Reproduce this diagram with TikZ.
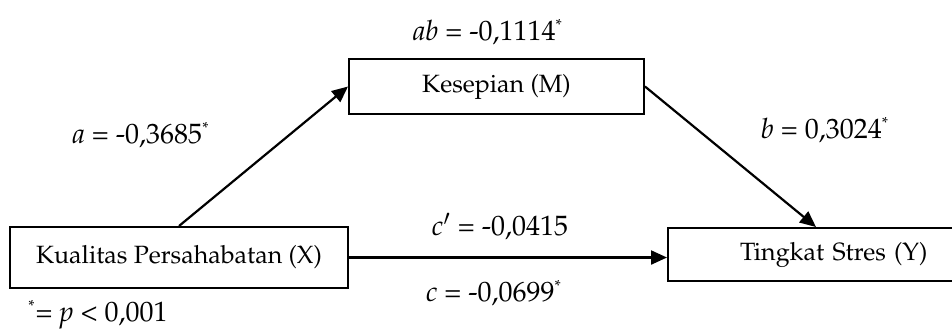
\documentclass[tikz,border=0pt]{standalone}
\usepackage[T1]{fontenc}
\usepackage{mathpazo}
\usetikzlibrary{arrows.meta}
\newcommand{\sigstar}{\textsuperscript{\fontsize{8}{8}\selectfont *}}
\tikzset{
  box/.style={draw, line width=1pt, inner sep=0pt, font=\fontsize{12.5}{15}\selectfont},
  lbl/.style={inner sep=0pt, font=\fontsize{14}{17}\selectfont},
  arr/.style={line width=1.1pt, -{Triangle[length=8pt,width=7pt]}}
}
\begin{document}
\begin{tikzpicture}[x=0.5pt,y=-0.5pt]
\useasboundingbox (0,0) rectangle (952,329);
\node[box, minimum width=169pt, minimum height=30.5pt] (X) at (179,257.5) {Kualitas Persahabatan (X)};
\node[box, minimum width=147.5pt, minimum height=27.5pt] (M) at (496.5,86.5) {Kesepian (M)};
\node[box, minimum width=148pt, minimum height=26.5pt, text width=136pt, align=left] (Y) at (816,254.5) {\hspace*{30pt}Tingkat Stres (Y)};
\draw[arr] (X.north) -- (M.west);
\draw[arr] (M.east) -- (Y.north);
\draw[arr] (X.east) -- (X.east -| Y.west);
\node[lbl] (lab) at (488,32) {\textit{ab} = -0,1114\sigstar};
\node[lbl] (la) at (141,135) {\textit{a} = -0,3685\sigstar};
\node[lbl] (lb) at (825,130) {\textit{b} = 0,3024\sigstar};
\node[lbl] (lcp) at (500,227) {\textit{c}$'$ = -0,0415};
\node[lbl] (lc) at (494,293) {\textit{c} = -0,0699\sigstar};
\node[lbl, anchor=west] (note) at (28,315) {\sigstar= \textit{p} {\textless} 0,001};
\end{tikzpicture}
\end{document}
